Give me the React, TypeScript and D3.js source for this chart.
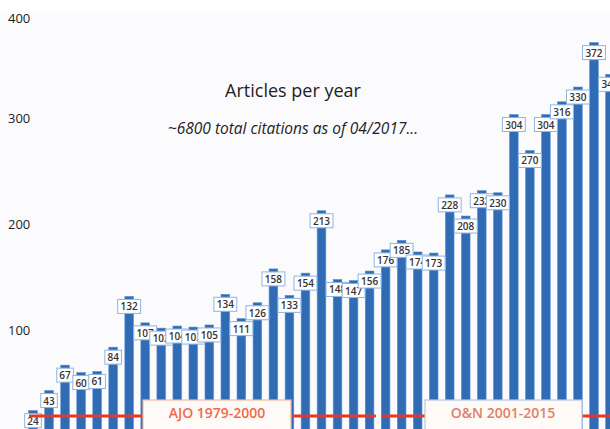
import React from "react";
import * as d3 from "d3";

const years = d3.range(1979, 2016).map(String);
const articles = [24, 43, 67, 60, 61, 84, 132, 107, 102, 104, 103, 105, 134, 111, 126, 158, 133, 154, 213, 148, 147, 156,
  176, 185, 174, 173, 228, 208, 232, 230, 304, 270, 304, 316, 330, 372, 342];
const yTicks = [100, 200, 300, 400];
const periods = [
  { label: "AJO 1979-2000", from: "1979", to: "2000" },
  { label: "O&N 2001-2015", from: "2001", to: "2015" },
];
const title = "Articles per year";
const subtitle = "~6800 total citations as of 04/2017...";

const W = 610, H = 429;

export default function App() {
  const x = d3.scaleBand().domain(years).range([25, 618]).paddingInner(0.46).paddingOuter(0.23);
  const y = d3.scaleLinear().domain([0, 400]).range([436, 13]);
  const font = "'Open Sans', 'DejaVu Sans', sans-serif";
  const lineY = 416;
  return (
    <svg width={W} height={H} style={{ position: "absolute", left: 0, top: 0, background: "#fff" }} fontFamily={font}>
      <rect x={0} y={12} width={W} height={H - 12} fill="#fbfbfd" />
      {yTicks.map((t) => (
        <text key={t} x={8} y={y(t)} dy={t === 400 ? "0.8em" : "0.35em"} fontSize={13} fill="#222">{t}</text>
      ))}
      {articles.map((v, i) => {
        const bx = x(years[i])!;
        return (
          <rect key={"b" + i} x={bx} y={y(v)} width={x.bandwidth()} height={y(0) - y(v)} fill="#2f6cb5" stroke="#5a8fd0" strokeWidth={0.6} />
        );
      })}
      {articles.map((v, i) => {
        const cx = x(years[i])! + x.bandwidth() / 2;
        const s = String(v);
        const bw = s.length * 6.3 + 4;
        return (
          <g key={"l" + i}>
            <rect x={cx - bw / 2} y={y(v) + 3} width={bw} height={14} fill="#ffffff" stroke="#8db4e2" strokeWidth={1} />
            <text x={cx} y={y(v) + 10.5} dy="0.35em" textAnchor="middle" fontSize={10} fontWeight={600} fill="#333">{s}</text>
          </g>
        );
      })}
      {periods.map((p, i) => {
        const x0 = x(p.from)! + x.bandwidth() / 2 - 4;
        const x1 = i === 0 ? x(p.to)! + x.bandwidth() + 2 : W;
        return <line key={"r" + i} x1={x0} x2={x1} y1={lineY} y2={lineY} stroke="#e8372a" strokeWidth={3} />;
      })}
      <g>
        <rect x={143} y={400} width={148} height={34} fill="#fdfaf8" stroke="#f2b9a0" strokeWidth={1.2} />
        <text x={217} y={413} dy="0.35em" textAnchor="middle" fontSize={14} fontWeight={600} fill="#f06a4a">{periods[0].label}</text>
        <rect x={425} y={400} width={157} height={34} fill="#fdfaf8" stroke="#b9c6da" strokeWidth={1.2} />
        <text x={503} y={413} dy="0.35em" textAnchor="middle" fontSize={14} fontWeight={600} fill="#e08068">{periods[1].label}</text>
      </g>
      <text x={293} y={97} textAnchor="middle" fontSize={18} fill="#222">{title}</text>
      <text x={293} y={134} textAnchor="middle" fontSize={15.5} fontStyle="italic" fill="#222">{subtitle}</text>
    </svg>
  );
}
